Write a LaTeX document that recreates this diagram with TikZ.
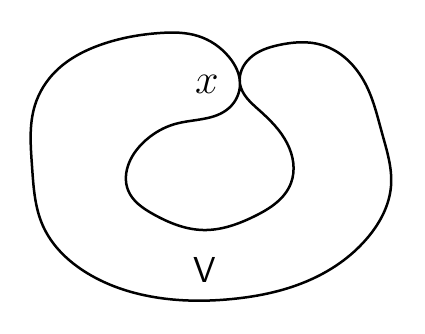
\documentclass[tikz,border=0pt]{standalone}
\usepackage{tikz}
\usetikzlibrary{hobby}

\begin{document}
\begin{tikzpicture}[
  x=1pt, y=-1pt,
  curve/.style={draw=black, line width=2.5pt, line join=round},
  lab/.style={font=\Huge, inner sep=0pt}
]
\useasboundingbox (0,0) rectangle (425,333);

% ---- the region V, one closed curve touching itself at x ----
\draw[curve, use Hobby shortcut, closed=true]
  (240,84) .. (229,57) .. (198,36) .. (160,33) .. (100,45) .. (55,72)
  .. (35,105) .. (32,166) .. (43,226) .. (87,273) .. (160,298)
  .. (232,299) .. (312,279) .. (369,236) .. (391,186) .. (382,133)
  .. (365,83) .. (322,45) .. (279,45) .. (250,58) .. (240,84)
  .. (259,110) .. (287,143) .. (291,183) .. (255,216) .. (203,230)
  .. (153,214) .. (128,190) .. (129,163) .. (146,140) .. (175,124)
  .. (229,108);

% ---- labels ----
\node[lab] (ptx) at (207,84) {\scalebox{1.7}{$x$}};
\node[lab] (regV) at (205,270) {\scalebox{1.45}{\textsf{V}}};
\end{tikzpicture}
\end{document}
